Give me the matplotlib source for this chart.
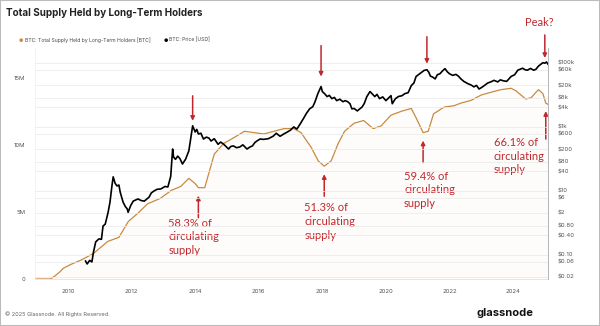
import numpy as np
import matplotlib.pyplot as plt
from matplotlib.patches import Rectangle

# long-term holder supply (millions of BTC), decimal years
lth_t = [2009.0, 2009.45, 2009.6, 2009.75, 2009.85, 2010.1, 2010.4, 2010.8, 2011.25, 2011.6,
         2011.9, 2012.2, 2012.5, 2012.9, 2013.25, 2013.55, 2013.8, 2014.0, 2014.1, 2014.3,
         2014.6, 2014.9, 2015.2, 2015.55, 2015.85, 2016.16, 2016.8, 2017.1, 2017.33, 2017.65,
         2017.87, 2018.06, 2018.28, 2018.5, 2018.7, 2019.0, 2019.3, 2019.6, 2019.85, 2020.16,
         2020.5, 2020.8, 2020.95, 2021.17, 2021.33, 2021.5, 2021.83, 2022.14, 2022.36, 2022.68,
         2023.0, 2023.3, 2023.62, 2023.94, 2024.1, 2024.25, 2024.4, 2024.57, 2024.72, 2024.8,
         2024.94, 2025.03, 2025.1]
lth_m = [0.0, 0.0, 0.25, 0.55, 0.8, 1.1, 1.4, 1.9, 2.8, 3.1,
         4.3, 4.9, 5.6, 6.0, 6.6, 6.9, 7.5, 7.1, 6.8, 6.8,
         9.3, 10.1, 10.5, 11.0, 10.9, 10.8, 11.2, 11.2, 10.9, 9.8,
         8.8, 8.4, 8.8, 10.1, 11.0, 11.6, 11.8, 11.2, 11.4, 12.2,
         12.5, 12.7, 12.0, 10.9, 11.0, 12.3, 12.8, 12.9, 13.1, 13.3,
         13.7, 13.9, 14.1, 14.2, 14.0, 13.7, 13.4, 13.5, 13.9, 14.1,
         13.8, 13.1, 13.0]

# BTC price (USD)
px_t = [2010.55, 2010.6, 2010.68, 2010.75, 2010.8, 2010.87, 2010.97, 2011.05, 2011.1, 2011.17,
        2011.26, 2011.32, 2011.38, 2011.42, 2011.48, 2011.54, 2011.6, 2011.64, 2011.73, 2011.8,
        2011.86, 2011.89, 2011.97, 2012.05, 2012.2, 2012.3, 2012.4, 2012.55, 2012.62, 2012.7,
        2012.8, 2012.92, 2013.05, 2013.14, 2013.23, 2013.29, 2013.32, 2013.38, 2013.45, 2013.52,
        2013.6, 2013.7, 2013.8, 2013.92, 2013.97, 2014.0, 2014.05, 2014.1, 2014.18, 2014.26,
        2014.35, 2014.43, 2014.5, 2014.6, 2014.72, 2014.8, 2014.9, 2015.05, 2015.12, 2015.2,
        2015.3, 2015.4, 2015.5, 2015.63, 2015.72, 2015.8, 2015.88, 2015.94, 2016.04, 2016.15,
        2016.3, 2016.45, 2016.55, 2016.67, 2016.8, 2016.9, 2017.0, 2017.1, 2017.2, 2017.3,
        2017.4, 2017.5, 2017.6, 2017.7, 2017.77, 2017.86, 2017.96, 2018.0, 2018.08, 2018.15,
        2018.22, 2018.3, 2018.38, 2018.45, 2018.55, 2018.65, 2018.72, 2018.8, 2018.87, 2018.93,
        2019.0, 2019.1, 2019.25, 2019.32, 2019.4, 2019.5, 2019.57, 2019.65, 2019.72, 2019.8,
        2019.9, 2020.0, 2020.08, 2020.16, 2020.2, 2020.3, 2020.4, 2020.5, 2020.6, 2020.7,
        2020.8, 2020.88, 2020.95, 2021.1, 2021.2, 2021.29, 2021.35, 2021.4, 2021.48, 2021.55,
        2021.62, 2021.7, 2021.78, 2021.86, 2021.93, 2022.0, 2022.1, 2022.2, 2022.28, 2022.36,
        2022.45, 2022.58, 2022.68, 2022.77, 2022.85, 2022.93, 2023.0, 2023.09, 2023.2, 2023.3,
        2023.4, 2023.52, 2023.6, 2023.7, 2023.8, 2023.94, 2024.05, 2024.15, 2024.22, 2024.3,
        2024.38, 2024.45, 2024.55, 2024.65, 2024.72, 2024.8, 2024.88, 2024.94, 2025.0, 2025.05,
        2025.1]
px_usd = [0.063, 0.051, 0.066, 0.059, 0.12, 0.25, 0.31, 0.3, 0.78, 0.9,
          2.1, 4.4, 14, 27, 17, 14, 15, 9, 4.4, 3.2,
          2.7, 2.1, 3.4, 4.7, 5.5, 4.9, 4.7, 6.3, 8.5, 9.7,
          11.0, 11.3, 13.5, 13, 28, 200, 112, 95, 120, 100,
          68, 97, 175, 1060, 800, 680, 820, 590, 620, 410,
          470, 440, 355, 420, 280, 330, 280, 200, 240, 250,
          220, 230, 270, 200, 230, 250, 320, 355, 410, 400,
          420, 500, 620, 500, 600, 680, 780, 980, 840, 1200,
          1750, 2600, 3600, 4200, 6000, 10800, 17900, 12500, 10500, 8700,
          9500, 7500, 8200, 6500, 7200, 6000, 6500, 6000, 5200, 3600,
          3700, 3100, 4100, 5300, 8700, 12500, 10500, 8700, 10200, 7500,
          8500, 6500, 7800, 9300, 5200, 7500, 8800, 9200, 10800, 11500,
          19300, 23000, 37000, 48000, 57000, 60000, 50000, 38000, 35000, 31000,
          42000, 45000, 55000, 65000, 52000, 45000, 40000, 43000, 38000, 31000,
          26000, 22000, 20000, 17500, 19500, 15000, 16500, 19000, 23000, 25000,
          28000, 25000, 29000, 27000, 26000, 37000, 42000, 58000, 62000, 67000,
          60000, 58000, 66000, 58000, 62000, 78000, 90000, 100000, 96000, 105000,
          90000]

left_ticks = [0, 5, 10, 15]
left_labels = ['0', '5M', '10M', '15M']
right_ticks = [0.02, 0.06, 0.10, 0.40, 0.80, 2, 6, 10, 40, 80, 200, 600,
               1000, 4000, 8000, 20000, 60000, 100000]
right_labels = ['$0.02', '$0.06', '$0.10', '$0.40', '$0.80', '$2', '$6', '$10', '$40',
                '$80', '$200', '$600', '$1k', '$4k', '$8k', '$20k', '$60k', '$100k']
years = list(range(2010, 2025, 2))

orange = '#c98a3e'
red = '#c0282e'
grey = '#555555'

plt.rcParams['font.family'] = ['Inter', 'DejaVu Sans']

fig = plt.figure(figsize=(6, 3.26), dpi=100)
ax1 = fig.add_axes([35/600, 1-279/326, 513/600, 231/326])
ax2 = ax1.twinx()

ax1.plot(lth_t, lth_m, color=orange, lw=0.9, zorder=3)
ax1.fill_between(lth_t, lth_m, color=orange, alpha=0.025, lw=0)
ax1.set_ylim(0, 17.2)
ax1.set_xlim(2008.96, 2025.1)
ax1.set_yticks(left_ticks)
ax1.set_yticklabels(left_labels)
ax1.set_xticks(years)
ax1.set_xticklabels([str(y) for y in years])

ax2.set_yscale('log')
ax2.plot(px_t, px_usd, color='black', lw=1.2, zorder=4)
ax2.set_ylim(0.0173, 2.87e5)
ax2.set_yticks(right_ticks)
ax2.set_yticklabels(right_labels)
ax2.minorticks_off()
ax2.grid(axis='y', color='#e8e8e8', lw=0.5, zorder=0)

for a in (ax1, ax2):
    a.tick_params(length=0, labelsize=4.3, colors=grey)
    for s in a.spines.values():
        s.set_visible(False)
ax1.tick_params(axis='y', pad=7)
ax1.tick_params(axis='x', pad=7)
ax2.tick_params(axis='y', pad=7)
ax2.spines['right'].set_visible(True)
ax2.spines['right'].set_color('#aaaaaa')
ax2.spines['right'].set_linewidth(0.6)
ax1.spines['bottom'].set_visible(True)
ax1.spines['bottom'].set_color('#dddddd')
ax1.spines['bottom'].set_linewidth(0.5)
ax1.spines['left'].set_visible(True)
ax1.spines['left'].set_color('#eeeeee')
ax1.spines['left'].set_linewidth(0.5)

afont = dict(family=['Lato', 'DejaVu Sans'], fontsize=8.0, color=red, linespacing=1.3)
arrow = dict(arrowstyle='-|>', color=red, lw=1.1, mutation_scale=6, shrinkA=0)


def arrow_at(ax, t, v, length, gap):
    ap = dict(arrow, shrinkB=gap * 0.72)
    ax.annotate('', xy=(t, v), xytext=(0, length + gap), textcoords='offset pixels',
                arrowprops=ap, zorder=6)


# price peaks: down arrows
arrow_at(ax2, 2013.92, 1060, 25, 5)
arrow_at(ax2, 2017.96, 17900, 31, 10)
arrow_at(ax2, 2021.29, 60000, 27, 6)
arrow_at(ax2, 2025.0, 105000, 23, 4)
ax2.annotate('Peak?', xy=(2025.0, 105000), xytext=(-6, 39), textcoords='offset pixels',
             ha='center', va='center', **afont)

# supply lows: up arrows + labels
lows = [(2014.1, 6.8, '58.3% of\ncirculating\nsupply', -30, -30),
        (2018.06, 8.4, '51.3% of\ncirculating\nsupply', -20, -36),
        (2021.17, 10.9, '59.4% of\ncirculating\nsupply', -19, -38),
        (2025.03, 13.1, '66.1% of\ncirculating\nsupply', -52, -34)]
for t, v, txt, dx, dy in lows:
    length = 22 if t < 2025 else 28
    gap = 8
    ap = dict(arrow, shrinkB=gap * 0.72)
    ax1.annotate('', xy=(t, v), xytext=(0, -(length + gap)), textcoords='offset pixels',
                 arrowprops=ap, zorder=6)
    ax1.annotate(txt, xy=(t, v), xytext=(dx, dy), textcoords='offset pixels',
                 ha='left', va='top', **afont)

fig.text(6/600, 1-13/326, 'Total Supply Held by Long-Term Holders', fontsize=7.1,
         fontweight='bold', color='#222222', va='center', ha='left')
fig.text(19/600, 1-40/326, '●', fontsize=3.5, color=orange, va='center', ha='left')
fig.text(25/600, 1-40/326, 'BTC: Total Supply Held by Long-Term Holders [BTC]', fontsize=3.6,
         color='#444444', va='center', ha='left')
fig.text(164/600, 1-40/326, '●', fontsize=3.5, color='black', va='center', ha='left')
fig.text(169/600, 1-40/326, 'BTC: Price [USD]', fontsize=3.6, color='#444444',
         va='center', ha='left')
fig.text(5/600, 1-314/326, '© 2025 Glassnode. All Rights Reserved.', fontsize=4.0,
         color='#666666', va='center', ha='left')
fig.text(505/600, 1-313/326, 'glassnode', fontsize=8, fontweight='bold', color='#111111',
         va='center', ha='center')

fig.patches.append(Rectangle((0, 0), 1, 1, transform=fig.transFigure, fill=False,
                             edgecolor='#bbbbbb', lw=1.5))

fig.savefig('out.png', dpi=100)
